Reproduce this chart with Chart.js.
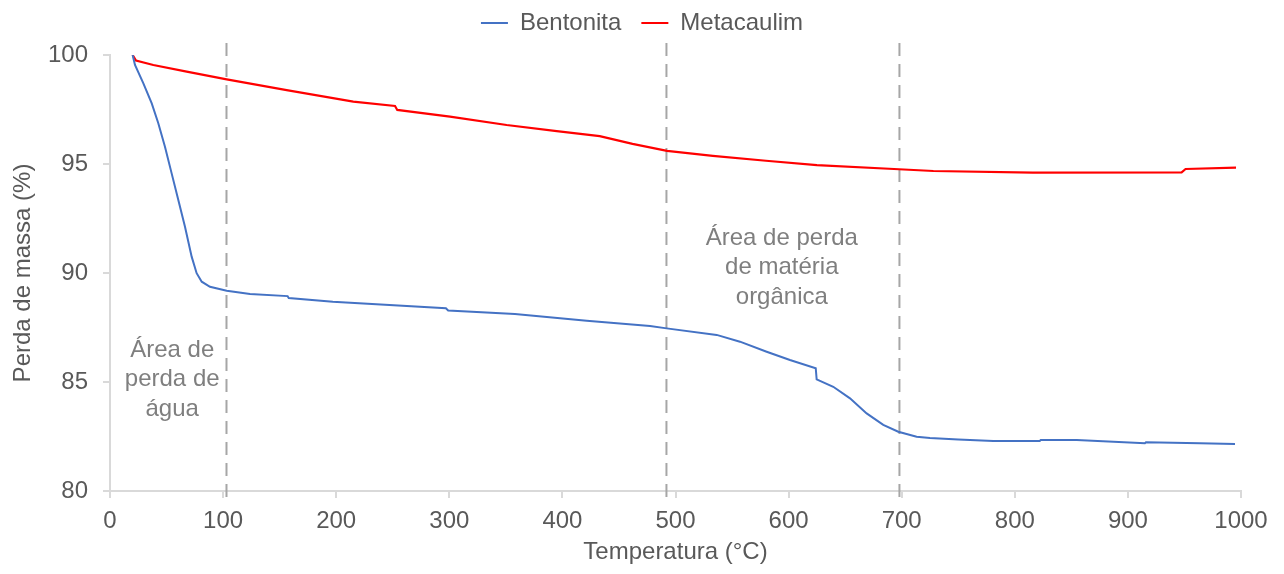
<!DOCTYPE html>
<html>
<head>
<meta charset="utf-8">
<script src="https://cdn.jsdelivr.net/npm/chart.js@4.4.1/dist/chart.umd.min.js"></script>
<style>
  html, body { margin: 0; padding: 0; background: #fff; }
  #wrap { width: 1284px; height: 574px; }
</style>
</head>
<body>
<div id="wrap"><canvas id="tga-chart"></canvas></div>
<script>
// TGA curves: temperature (°C) and remaining mass (%)
const bentonitaTemp = [20, 22.1, 29.5, 36.9, 42.7, 48.6, 54.5, 60.4, 66.3, 72.2, 76.6, 81.1, 88.4, 103.2, 123.8, 157, 158, 197, 297, 299, 358, 421.5, 477.5, 492.2, 536.4, 557, 580.6, 601.2, 624, 624.8, 639.5, 654.3, 669, 683.7, 697, 713.2, 725, 750, 781, 822, 823, 854.7, 915, 916, 963.7, 994.7];
const bentonitaMass = [100, 99.54, 98.7, 97.78, 96.87, 95.79, 94.57, 93.35, 92.12, 90.75, 89.99, 89.6, 89.37, 89.19, 89.04, 88.94, 88.85, 88.68, 88.38, 88.28, 88.12, 87.81, 87.57, 87.46, 87.16, 86.85, 86.39, 86.01, 85.63, 85.12, 84.78, 84.25, 83.56, 83.03, 82.72, 82.49, 82.43, 82.36, 82.29, 82.29, 82.34, 82.34, 82.19, 82.24, 82.19, 82.16];

const metacaulimTemp = [20, 23, 38.3, 67.8, 103.2, 156.2, 215.1, 252, 254, 300.6, 350.7, 395, 433, 462, 492.5, 533, 580, 625, 697.6, 728, 816, 947.5, 951, 995.6];
const metacaulimMass = [100, 99.74, 99.54, 99.24, 98.88, 98.39, 97.86, 97.66, 97.48, 97.17, 96.79, 96.51, 96.28, 95.92, 95.6, 95.37, 95.15, 94.95, 94.76, 94.68, 94.6, 94.62, 94.77, 94.83];

// Dashed region boundaries (°C)
const boundaryTemps = [103, 492, 698];

// Region captions and their anchor (temperature, mass of first line)
const regionLabels = [['Área de', 'perda de', 'água'], ['Área de perda', 'de matéria', 'orgânica']];
const regionTemps = [55, 594];
const regionMass = [86.47, 91.6];

const FONT = '"Liberation Sans", Arial, sans-serif';
Chart.defaults.font.family = FONT;
Chart.defaults.font.size = 24;
Chart.defaults.color = '#595959';

const toPoints = (xs, ys) => xs.map((x, i) => ({ x: x, y: ys[i] }));

const datasets = [
    {
        label: 'Bentonita',
        data: toPoints(bentonitaTemp, bentonitaMass),
        borderColor: '#4472c4',
        backgroundColor: '#4472c4',
        borderWidth: 2,
        pointRadius: 0,
        tension: 0
    },
    {
        label: 'Metacaulim',
        data: toPoints(metacaulimTemp, metacaulimMass),
        borderColor: '#ff0000',
        backgroundColor: '#ff0000',
        borderWidth: 2.2,
        pointRadius: 0,
        tension: 0
    }
];

// dashed verticals, running a little past both ends of the y axis
boundaryTemps.forEach(t => {
    datasets.push({
        label: '',
        data: [{ x: t, y: 100.55 }, { x: t, y: 79.6 }],
        borderColor: '#a6a6a6',
        borderWidth: 2,
        borderDash: [13, 8],
        pointRadius: 0,
        clip: false
    });
});

// draws the region captions at data coordinates
const regionText = {
    id: 'regionText',
    afterDatasetsDraw(chart) {
        const { ctx, scales: { x, y } } = chart;
        ctx.save();
        ctx.font = '24px ' + FONT;
        ctx.fillStyle = '#7f7f7f';
        ctx.textAlign = 'center';
        ctx.textBaseline = 'middle';
        regionLabels.forEach((lines, i) => {
            const px = x.getPixelForValue(regionTemps[i]);
            const py = y.getPixelForValue(regionMass[i]);
            lines.forEach((line, j) => ctx.fillText(line, px, py + j * 29.5));
        });
        ctx.restore();
    }
};

// fixed legend band height so the plot top lands where the original has it
const legendBand = {
    id: 'legendBand',
    beforeLayout(chart) {
        const legend = chart.legend;
        if (legend && !legend._bandFixed) {
            const fit = legend.fit;
            legend.fit = function() {
                fit.call(this);
                this.height = 64;
            };
            legend._bandFixed = true;
        }
    }
};

const ctx = document.getElementById('tga-chart').getContext('2d');
new Chart(ctx, {
    type: 'line',
    data: { datasets: datasets },
    plugins: [regionText, legendBand],
    options: {
        responsive: true,
        maintainAspectRatio: false,
        animation: false,
        devicePixelRatio: 1,
        layout: { padding: { top: -9, right: 0, bottom: 0, left: 0 } },
        plugins: {
            legend: {
                position: 'top',
                labels: {
                    boxWidth: 27,
                    boxHeight: 2,
                    padding: 20,
                    color: '#595959',
                    font: { size: 24 },
                    generateLabels: function(chart) {
                        return chart.data.datasets.slice(0, 2).map((ds, i) => ({
                            text: ds.label,
                            fillStyle: ds.borderColor,
                            strokeStyle: ds.borderColor,
                            fontColor: '#595959',
                            lineWidth: 0,
                            datasetIndex: i
                        }));
                    }
                }
            },
            tooltip: { enabled: false }
        },
        scales: {
            x: {
                type: 'linear',
                min: 0,
                max: 1000,
                ticks: {
                    stepSize: 100,
                    padding: 9,
                    maxRotation: 0,
                    color: '#595959',
                    callback: v => String(v)
                },
                grid: { drawOnChartArea: false, color: '#d9d9d9', tickLength: 7, lineWidth: 2 },
                border: { color: '#d9d9d9', width: 2 },
                title: {
                    display: true,
                    text: 'Temperatura (°C)',
                    color: '#595959',
                    padding: { top: 0, bottom: 7 }
                },
                afterFit(scale) {
                    scale.height = 83;
                    scale.paddingRight = 43;
                }
            },
            y: {
                min: 80,
                max: 100,
                ticks: { stepSize: 5, padding: 15, color: '#595959' },
                grid: { drawOnChartArea: false, color: '#d9d9d9', tickLength: 7, lineWidth: 2 },
                border: { color: '#d9d9d9', width: 2 },
                title: {
                    display: true,
                    text: 'Perda de massa (%)',
                    color: '#595959',
                    padding: { top: 9, bottom: 0 }
                },
                afterFit(scale) {
                    scale.width = 110;
                }
            }
        }
    }
});
</script>
</body>
</html>
